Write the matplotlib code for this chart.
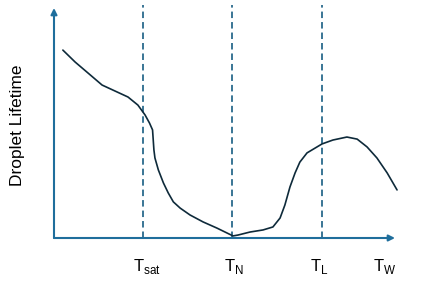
import matplotlib.pyplot as plt

plt.rcParams['font.family'] = ['Liberation Sans', 'DejaVu Sans']
plt.rcParams['mathtext.fontset'] = 'custom'
plt.rcParams['mathtext.rm'] = 'Liberation Sans'

# curve (arbitrary units, axes span 0..10)
temp = [0.26, 0.62, 1.00, 1.41, 1.79, 2.17, 2.46, 2.67, 2.80, 2.89, 2.93, 2.96,
        3.06, 3.21, 3.35, 3.50, 3.70, 3.99, 4.37, 4.78, 5.07, 5.25, 5.40, 5.75,
        6.13, 6.42, 6.63, 6.77, 6.92, 7.07, 7.21, 7.42, 7.86, 8.18, 8.59, 8.89,
        9.18, 9.47, 9.77, 10.06]
lifetime = [8.17, 7.65, 7.17, 6.65, 6.39, 6.13, 5.78, 5.35, 5.00, 4.70, 3.83, 3.48,
            2.96, 2.39, 1.96, 1.57, 1.30, 1.00, 0.70, 0.43, 0.22, 0.09, 0.13, 0.26,
            0.35, 0.48, 0.87, 1.43, 2.22, 2.83, 3.30, 3.70, 4.09, 4.26, 4.39, 4.30,
            3.96, 3.48, 2.83, 2.09]

# characteristic temperatures (dashed lines) and label positions
t_marks = [2.61, 5.22, 7.86]
labels = [r'$\mathrm{T}_{\mathrm{sat}}$', r'$\mathrm{T}_{\mathrm{N}}$',
          r'$\mathrm{T}_{\mathrm{L}}$', r'$\mathrm{T}_{\mathrm{W}}$']
label_x = [2.32, 4.99, 7.51, 9.35]

axis_col = '#1f6e9c'
dash_col = '#2a6a8c'
curve_col = '#0e2a3a'

fig = plt.figure(figsize=(4.26, 2.90), dpi=100)
ax = fig.add_axes([54 / 426, 52 / 290, 341 / 426, 230 / 290])
ax.set_xlim(0, 10)
ax.set_ylim(0, 10)
ax.axis('off')

# axes with arrows
ax.annotate('', xy=(1.0, 0), xytext=(0, 0), xycoords='axes fraction',
            arrowprops=dict(arrowstyle='-|>', color=axis_col, lw=1.5,
                            mutation_scale=9, shrinkA=0, shrinkB=0))
ax.annotate('', xy=(0, 1.0), xytext=(0, 0), xycoords='axes fraction',
            arrowprops=dict(arrowstyle='-|>', color=axis_col, lw=1.5,
                            mutation_scale=9, shrinkA=0, shrinkB=0))

for t in t_marks:
    ax.axvline(t, ymin=0, ymax=1.013, color=dash_col, lw=1.3,
               dashes=(3.6, 2.2), clip_on=False)

ax.plot(temp, lifetime, color=curve_col, lw=1.2, clip_on=False,
        solid_joinstyle='round', solid_capstyle='round')

for x, lab in zip(label_x, labels):
    ax.text(x, -1.26, lab, fontsize=12, ha='left', va='center')

fig.text(18 / 426, 1 - 125 / 290, 'Droplet Lifetime', rotation=90,
         fontsize=12.5, ha='center', va='center')

fig.savefig('out.png', dpi=100)
